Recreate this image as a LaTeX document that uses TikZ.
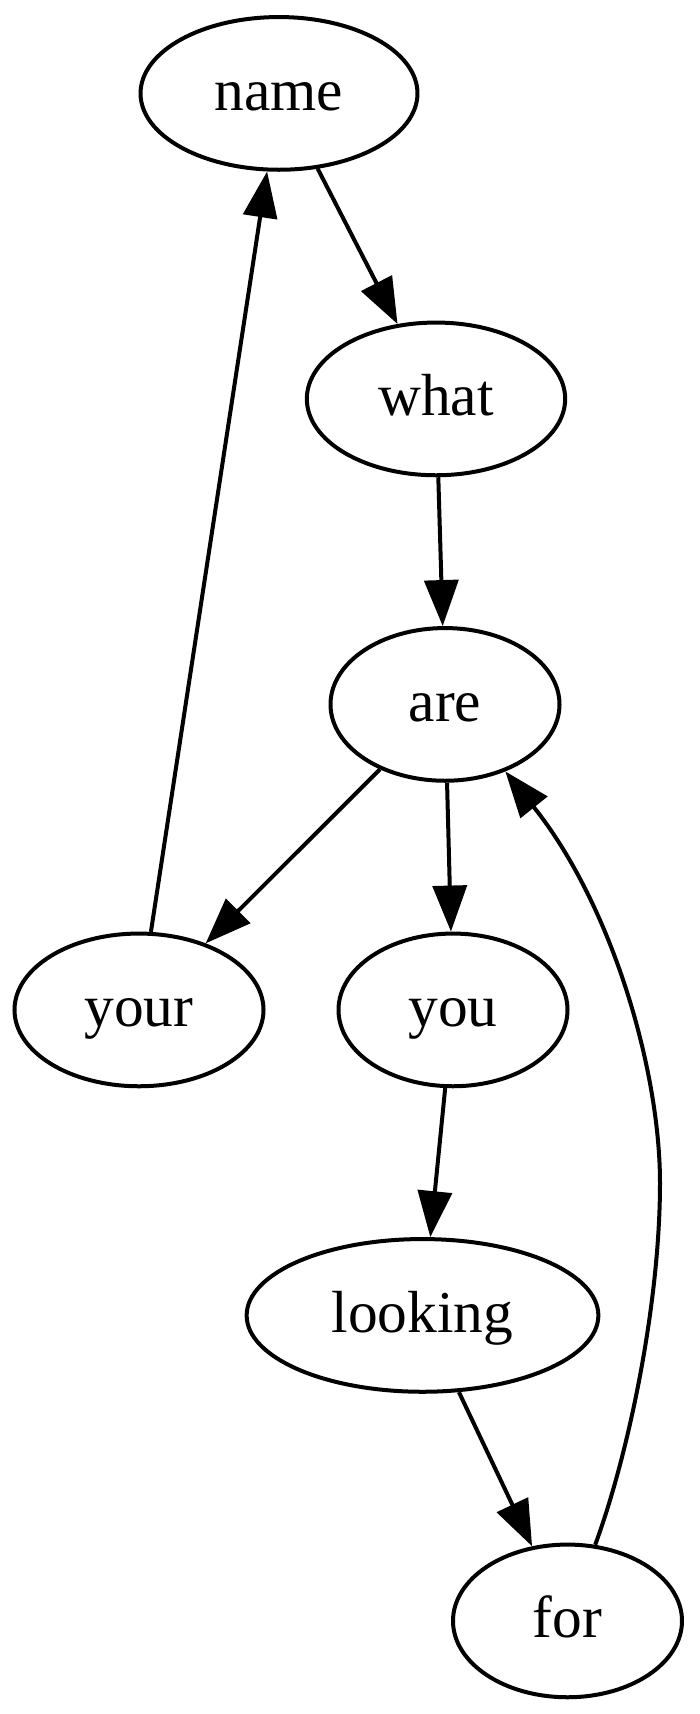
\documentclass[tikz,border=0pt]{standalone}
\usepackage{fontspec}
\setmainfont{Liberation Serif}
\usetikzlibrary{shapes.geometric,arrows.meta}

\begin{document}
\begin{tikzpicture}[x=1pt, y=-1pt, line width=4pt,
    word/.style={draw, ellipse, inner xsep=33.6pt, inner ysep=0pt,
      minimum width=229pt, minimum height=152.7pt,
      text height=40pt, text depth=6pt, font=\fontsize{59.4}{71}\selectfont},
    link/.style={-{Triangle[length=46pt, width=34pt]}}]
            \useasboundingbox (0, 0) rectangle (700, 1714);
            \node[word] (name) at (279, 93.4) {name};
            \node[word] (what) at (436, 398.9) {what};
            \node[word] (are) at (445, 704.4) {are};
            \node[word] (your) at (139, 1009.9) {your};
            \node[word] (you) at (453, 1009.9) {you};
            \node[word] (looking) at (422.5, 1315.4) {looking};
            \node[word] (for) at (567.5, 1620.9) {for};
            \draw[link] (name) -- (what);
            \draw[link] (what) -- (are);
            \draw[link] (are) -- (your);
            \draw[link] (are) -- (you);
            \draw[link] (your) -- (name);
            \draw[link] (you) -- (looking);
            \draw[link] (looking) -- (for);
            \draw[link] (for.70) .. controls (630, 1450) and (660, 1300) .. (660, 1183)
                .. controls (660, 1070) and (612, 905) .. (are.-48);
        \end{tikzpicture}
\end{document}
